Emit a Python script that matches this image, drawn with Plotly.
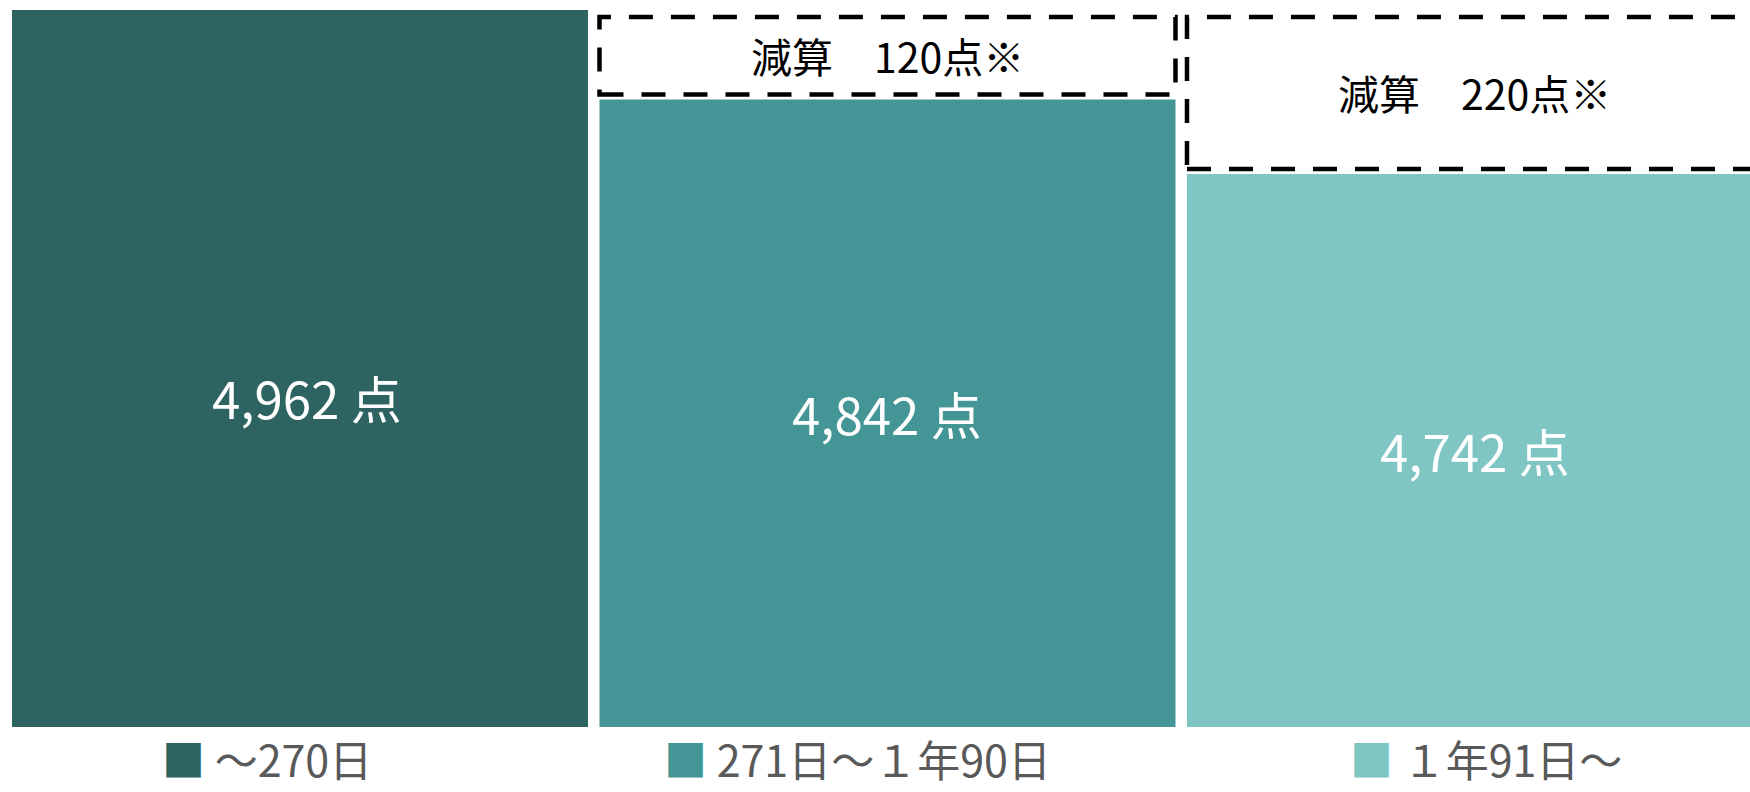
import plotly.graph_objects as go

# ---- data ----
categories = ["～270日", "271日～１年90日", "１年91日～"]
points = [4962, 4842, 4742]
reductions = [0, 120, 220]
colors = ["#2D6360", "#439695", "#7EC5C4"]

# ---- style / layout constants ----
FONT = "Noto Sans CJK JP"
W, H = 1750, 792
MB = 65
PLOT_H = H - MB
Y_BASE = 4000
Y_TOP = 4975.4
BAR_W = 0.9804
X_RANGE = [-0.5106, 2.4681]
units_per_px = (Y_TOP - Y_BASE) / PLOT_H
label_xshift = [7, 0, 0]
label_yshift = [-29, 0, 0]
legend_xshift = [-33, -30, 11]
legend_center_px = 758
box_inset_top_px = 7
box_inset_bottom_px = 5

fig = go.Figure()
fig.add_trace(go.Bar(
    x=list(range(len(categories))),
    y=[p - Y_BASE for p in points],
    base=Y_BASE,
    width=BAR_W,
    marker=dict(color=colors, line=dict(width=0)),
    hoverinfo="skip",
    showlegend=False,
))

annotations = []
shapes = []
for i, (cat, p, r, c) in enumerate(zip(categories, points, reductions, colors)):
    # value label in bar
    annotations.append(dict(
        x=i, y=(Y_BASE + p) / 2, xref="x", yref="y",
        text=f"{p:,} 点", showarrow=False,
        font=dict(family=FONT, size=51, color="white"),
        xanchor="center", yanchor="middle",
        xshift=label_xshift[i], yshift=label_yshift[i],
    ))
    # reduction dashed box
    if r > 0:
        shapes.append(dict(
            type="rect", xref="x", yref="y",
            x0=i - BAR_W / 2, x1=i + BAR_W / 2,
            y0=p + box_inset_bottom_px * units_per_px,
            y1=p + r - box_inset_top_px * units_per_px,
            line=dict(color="black", width=4.5, dash="24px,18px"),
            fillcolor="rgba(0,0,0,0)", layer="above",
        ))
        annotations.append(dict(
            x=i, y=p + r / 2, xref="x", yref="y",
            text=f"減算　{r}点※", showarrow=False,
            font=dict(family=FONT, size=41, color="black"),
            xanchor="center", yanchor="middle",
        ))
    # legend-like category label
    annotations.append(dict(
        x=i, y=(PLOT_H - legend_center_px) / PLOT_H, xref="x", yref="paper",
        text=f'<span style="color:{c}">■</span> {cat}', showarrow=False,
        font=dict(family=FONT, size=43, color="#595959"),
        xanchor="center", yanchor="middle", xshift=legend_xshift[i],
        borderpad=0,
    ))

fig.update_layout(
    width=W, height=H,
    margin=dict(l=0, r=0, t=0, b=MB, pad=0),
    paper_bgcolor="white", plot_bgcolor="white",
    xaxis=dict(range=X_RANGE, visible=False, fixedrange=True),
    yaxis=dict(range=[Y_BASE, Y_TOP], visible=False, fixedrange=True),
    shapes=shapes, annotations=annotations,
    showlegend=False, hovermode=False,
    font=dict(family=FONT),
)

fig.write_html(
    "out.html",
    config={"displayModeBar": False},
    post_script="document.body.style.margin='0';document.body.style.overflow='hidden';",
)
